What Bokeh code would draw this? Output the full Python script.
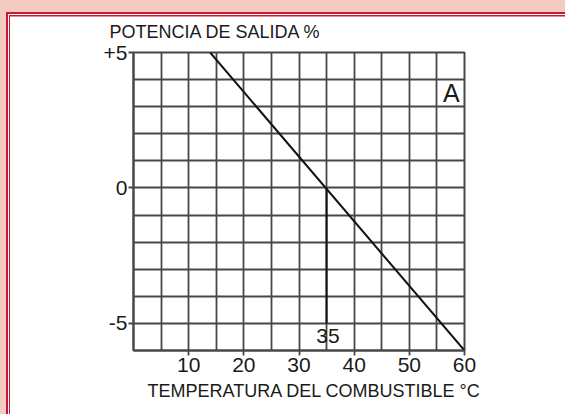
from bokeh.plotting import figure
from bokeh.models import Range1d, FixedTicker, Label, Title
from bokeh.embed import file_html
from bokeh.resources import INLINE

# ---- data ----
temperature = [13.9, 60.0]          # diagonal line (deg C)
power = [5.0, -6.0]                 # output power (%)
marker_temperature = [35.0, 35.0]   # vertical reading line at 35 deg C
marker_power = [0.0, -5.0]
x_ticks = [10, 20, 30, 40, 50, 60]
y_ticks = [-5, 0, 5]
y_tick_labels = {-5: "-5", 0: "0", 5: "+5"}
x_grid = list(range(0, 61, 5))
y_grid = list(range(-6, 6))

PINK = "#f3cbc0"
RED = "#c8183a"
GRID = "#474747"
INK = "#1a1a1a"
FONT = "Liberation Sans"

p = figure(width=565, height=414,
           x_range=Range1d(0, 60), y_range=Range1d(-6, 5),
           output_backend="svg", toolbar_location=None,
           min_border_left=133, min_border_right=101,
           min_border_top=52, min_border_bottom=64,
           background_fill_color="white", border_fill_color=None)

# grid
p.xgrid.ticker = FixedTicker(ticks=x_grid)
p.ygrid.ticker = FixedTicker(ticks=y_grid)
for g in (p.xgrid, p.ygrid):
    g.grid_line_color = GRID
    g.grid_line_width = 1.8
    g.grid_line_alpha = 1.0

p.outline_line_color = GRID
p.outline_line_width = 2
p.outline_line_alpha = 1.0

# axes
p.xaxis.ticker = FixedTicker(ticks=x_ticks)
p.yaxis.ticker = FixedTicker(ticks=y_ticks)
p.yaxis.major_label_overrides = y_tick_labels
for ax in (p.xaxis, p.yaxis):
    ax.axis_line_color = GRID
    ax.axis_line_width = 2
    ax.major_tick_line_color = GRID
    ax.major_tick_line_width = 1.8
    ax.major_tick_out = 5
    ax.major_tick_in = 0
    ax.minor_tick_out = 0
    ax.minor_tick_in = 0
    ax.major_label_text_font = FONT
    ax.major_label_text_font_size = "21px"
    ax.major_label_text_color = INK
p.xaxis.major_label_standoff = 2
p.yaxis.major_label_standoff = 1

# lines
p.line(temperature, power, line_color="#111111", line_width=2)
p.line(marker_temperature, marker_power, line_color="#111111", line_width=2)

# axis titles (outside the frame)
p.add_layout(Title(text="POTENCIA DE SALIDA %", align="left", offset=-24,
                   standoff=22, text_font=FONT, text_font_size="18px",
                   text_font_style="normal", text_color=INK), "above")
p.add_layout(Title(text="TEMPERATURA DEL COMBUSTIBLE °C", align="left",
                   offset=14, standoff=9, text_font=FONT,
                   text_font_size="18px", text_font_style="normal",
                   text_color=INK), "below")

# in-frame labels
p.add_layout(Label(x=57.6, y=3.50, text="A",
                   text_font=FONT, text_font_size="25px", text_color=INK,
                   text_align="center", text_baseline="alphabetic"))
p.add_layout(Label(x=35.24, y=-5.48, text="35",
                   text_font=FONT, text_font_size="21px", text_color=INK,
                   text_align="center", text_baseline="alphabetic"))

css = ("<style>html{margin:0;background:"
       "linear-gradient(%(r)s,%(r)s) 9px 15px/100%% 1.5px no-repeat,"
       "linear-gradient(%(r)s,%(r)s) 9px 15px/1px 100%% no-repeat,"
       "linear-gradient(#fff,#fff) 8px 14px/100%% 100%% no-repeat,"
       "linear-gradient(%(r)s,%(r)s) 6px 12px/100%% 100%% no-repeat,"
       "%(p)s;}body{margin:0;background:transparent;overflow:hidden;}</style></head>"
       % {"r": RED, "p": PINK})

open("out.html", "w").write(file_html(p, INLINE).replace("</head>", css))
